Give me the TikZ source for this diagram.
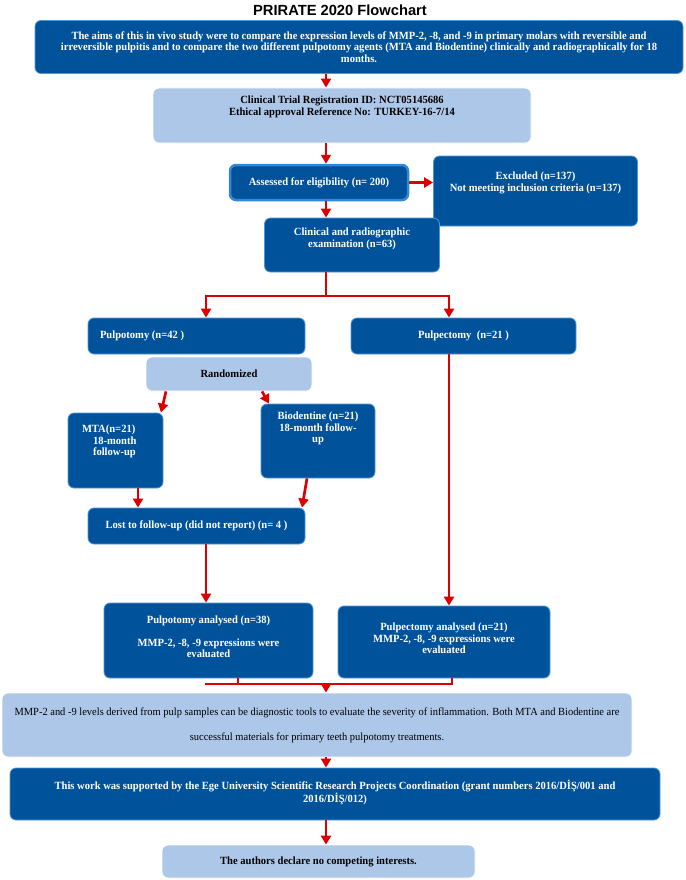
\documentclass[tikz,border=0pt]{standalone}
\usepackage{fontspec}
\setmainfont{Liberation Serif}[FakeStretch=0.96]
\newfontfamily\titlefont{Liberation Sans}
\usetikzlibrary{arrows.meta}
\definecolor{dblue}{RGB}{0,83,155}
\definecolor{lblue}{RGB}{173,199,233}
\definecolor{bord}{RGB}{80,150,215}
\definecolor{arred}{RGB}{220,0,0}
\begin{document}
\begin{tikzpicture}[x=1pt,y=-1pt,
  base/.style={rounded corners=6pt, align=center, inner sep=2pt, line width=0.8pt,
    font=\bfseries\fontsize{11}{11.5}\selectfont},
  dbox/.style={base, draw=bord, fill=dblue, text=white},
  lbox/.style={base, draw=white, fill=lblue, text=black},
  sz/.style 2 args={minimum width=#1pt, minimum height=#2pt},
  arr/.style={draw=arred, line width=2.7pt, -{Triangle[length=9pt,width=10pt]}},
  ln/.style={draw=arred, line width=2.7pt},
]
\useasboundingbox (0,0) rectangle (685,880);
\coordinate (spine) at (326,0);

\node[font=\titlefont\bfseries\fontsize{14.7}{17}\selectfont] (title) at (340,10) {PRIRATE 2020 Flowchart};

\node[dbox, sz={648}{53}] (aims) at (359,47)
 {The aims of this in vivo study were to compare the expression levels of MMP-2, -8, and -9 in primary molars with reversible and\\
  irreversible pulpitis and to compare the two different pulpotomy agents (MTA and Biodentine) clinically and radiographically for 18\\
  months.};

\node[lbox, sz={378}{55}] (reg) at (342,115.5)
 {\parbox[c][45pt][t]{370pt}{\centering\vspace{3pt}Clinical Trial Registration ID: NCT05145686\\Ethical approval Reference No: TURKEY-16-7/14}};

\node[dbox, sz={178}{35}, draw={rgb,255:red,50;green,135;blue,215}, line width=2.5pt] (assess) at (319,182.5)
 {Assessed for eligibility (n= 200)};

\node[dbox, sz={203}{70}] (excl) at (535.5,191)
 {\parbox[c][62pt][t]{200pt}{\centering\vspace{12pt}Excluded (n=137)\\Not meeting inclusion criteria (n=137)}};

\node[dbox, sz={175}{54}] (clin) at (352,245)
 {\parbox[c][48pt][t]{170pt}{\centering\vspace{7pt}Clinical and radiographic\\examination (n=63)}};

\node[dbox, sz={217}{36}] (pulpotomy) at (196.5,336)
 {\parbox{205pt}{\hspace*{6pt}Pulpotomy (n=42 )}};

\node[dbox, sz={225}{36}] (pulpectomy) at (463.5,336)
 {Pulpectomy\ \ (n=21 )};

\node[lbox, sz={166}{34}] (rand) at (229,374)
 {Randomized};

\node[dbox, sz={95}{75}] (mta) at (115.5,450.5)
 {\parbox[c][69pt][t]{89pt}{\raggedright\vspace{9pt}\hspace*{11pt}MTA(n=21)\\\hspace*{22pt}18-month\\\hspace*{22pt}follow-up}};

\node[dbox, sz={114}{74}] (bio) at (318,441)
 {\parbox[c][68pt][t]{110pt}{\centering\vspace{5pt}Biodentine (n=21)\\18-month follow-\\up}};

\node[dbox, sz={217}{36}] (lost) at (196.5,526)
 {Lost to follow-up (did not report) (n= 4 )};

\node[dbox, sz={209}{75}] (pta) at (208.5,640.5)
 {\parbox[c][69pt][t]{205pt}{\centering\vspace{10pt}Pulpotomy analysed (n=38)\\[11pt]MMP-2, -8, -9 expressions were\\evaluated}};

\node[dbox, sz={212}{72}] (pea) at (444,642)
 {\parbox[c][66pt][t]{208pt}{\centering\vspace{14pt}Pulpectomy analysed (n=21)\\MMP-2, -8, -9 expressions were\\evaluated}};

\node[lbox, sz={630}{64}, font=\fontsize{10.9}{25}\selectfont] (concl) at (317,725)
 {MMP-2 and -9 levels derived from pulp samples can be diagnostic tools to evaluate the severity of inflammation. Both MTA and Biodentine are\\
  successful materials for primary teeth pulpotomy treatments.};

\node[dbox, sz={650}{52}] (fund) at (335,794)
 {\parbox[c][46pt][t]{645pt}{\centering\vspace{9pt}This work was supported by the Ege University Scientific Research Projects Coordination (grant numbers 2016/DİŞ/001 and\\2016/DİŞ/012)}};

\node[lbox, sz={313}{33}] (auth) at (318.5,861.5)
 {The authors declare no competing interests.};

% connectors
\draw[arr] (aims.south -| spine) -- (reg.north -| spine);
\draw[arr] (reg.south -| spine) -- (assess.north -| spine);
\draw[arr] (assess.east) -- (assess.east -| excl.west);
\draw[arr] (assess.south -| spine) -- (clin.north -| spine);

\coordinate (lx) at (206,296);
\coordinate (rx) at (449,296);
\draw[ln] (clin.south -| spine) -- (spine |- lx);
\draw[ln, line cap=rect] (lx) -- (rx);
\draw[arr] (lx) -- (lx |- pulpotomy.north);
\draw[arr] (rx) -- (rx |- pulpectomy.north);

\coordinate (rl) at (166,0);
\coordinate (rr) at (262,0);
\coordinate (ml) at (161,0);
\coordinate (br) at (269,0);
\draw[arr] (rand.south -| rl) -- (ml |- mta.north);
\draw[arr] (rand.south -| rr) -- (br |- bio.north);

\coordinate (mx) at (138,0);
\coordinate (bx) at (307,0);
\coordinate (bx2) at (302,0);
\draw[arr] (mta.south -| mx) -- (lost.north -| mx);
\draw[arr] (bio.south -| bx) -- (lost.north -| bx2);

\draw[arr] (lost.south -| lx) -- (pta.north -| lx);
\draw[arr] (pulpectomy.south -| rx) -- (pea.north -| rx);

\coordinate (j1) at (238,684);
\coordinate (j2) at (452,684);
\coordinate (j0) at (206,684);
\draw[ln] (pta.south -| j1) -- (j1);
\draw[ln] (pea.south -| j2) -- (j2);
\draw[ln, line cap=rect] (j0) -- (j2);
\draw[arr] (spine |- j0) -- (concl.north -| spine);
\draw[arr] (concl.south -| spine) -- (fund.north -| spine);
\draw[arr] (fund.south -| spine) -- (auth.north -| spine);
\end{tikzpicture}
\end{document}
